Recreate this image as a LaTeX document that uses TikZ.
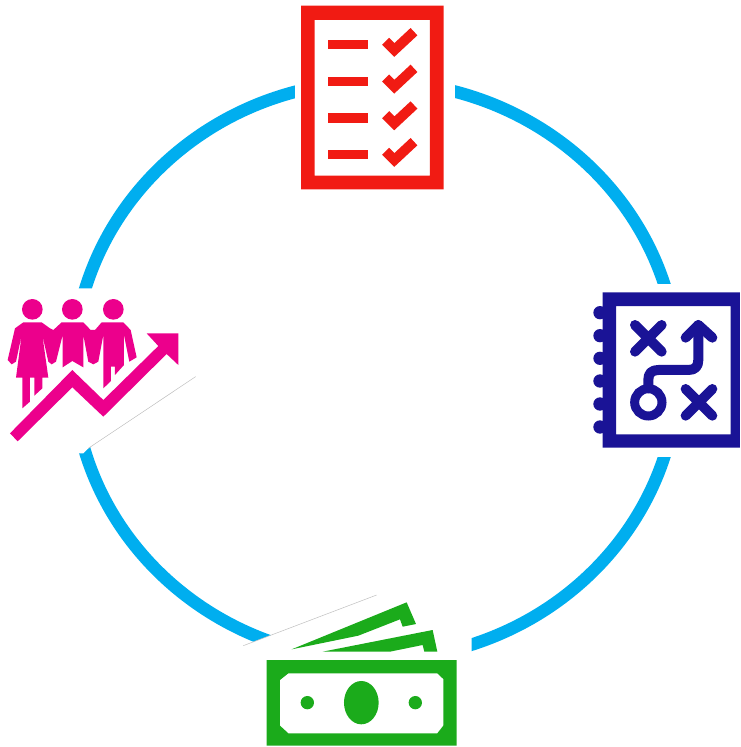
\documentclass[tikz,border=0pt]{standalone}
\definecolor{ringblue}{HTML}{00AEEF}
\definecolor{listred}{HTML}{F11B13}
\definecolor{plannavy}{HTML}{1A1396}
\definecolor{peoplepink}{HTML}{EC008C}
\definecolor{moneygreen}{HTML}{1BAB1B}
\tikzset{
  zoomed/.style={x=0.3333pt,y=-0.3333pt},
  maskfill/.style={fill=white,draw=none},
  cutline/.style={draw=black!25,line width=0.5pt},
  planstroke/.style={draw=plannavy,line width=10pt,line cap=round,line join=round},
  checkstroke/.style={draw=listred,line width=10pt,line join=miter,line cap=butt}
}
\begin{document}
\begin{tikzpicture}[x=1pt,y=-1pt]
\useasboundingbox (0,0) rectangle (740,747);
% ring
\draw[ringblue,line width=12.5pt] (375.5,370.5) ellipse [x radius=302.5,y radius=289];
% masks that interrupt the ring
\fill[maskfill] (295,60) rectangle (455,130);
\fill[maskfill] (620,284) rectangle (700,457);
\begin{scope}[zoomed,shift={(0pt,-280pt)}]
  \fill[maskfill] (170,25) -- (400,25) -- (587,290) -- (265,505) -- (250,520) -- (170,520) -- cycle;
  \draw[cutline] (265,505) -- (587,290);
\end{scope}
\begin{scope}[zoomed,shift={(230pt,-580pt)}]
  \fill[maskfill] (40,197) -- (440,45) -- (725,45) -- (725,280) -- (40,280) -- cycle;
  \draw[cutline] (40,197) -- (440,45);
\end{scope}
% checklist
\begin{scope}[zoomed,shift={(290pt,0pt)}]
  \fill[listred,even odd rule] (33,17) rectangle (461,568) (74,60) rectangle (420,527);
  \foreach \yy in {0,110,220,330}{
    \fill[listred] (115,120+\yy) rectangle (233,148+\yy);
    \draw[checkstroke] (287,124+\yy) -- (313,150+\yy) -- (372,95+\yy);
  }
\end{scope}
% plan
\begin{scope}[zoomed,shift={(580pt,-280pt)}]
  \foreach \yy in {98,167,235,303,372,441}{
    \fill[plannavy] (60,\yy) circle [radius=20];
  }
  \fill[plannavy,even odd rule] (68,37) rectangle (480,503) (108,78) rectangle (452,463);
  \draw[planstroke] (165,135) -- (245,215) (165,215) -- (245,135);
  \draw[planstroke] (317,327) -- (397,407) (317,407) -- (397,327);
  \draw[planstroke] (317,173) -- (355,135) -- (397,173);
  \draw[planstroke] (355,135) -- (355,240) .. controls (355,260) and (345,270) .. (325,270) -- (235,270) .. controls (215,270) and (205,280) .. (205,300) -- (205,325);
  \draw[plannavy,line width=9pt] (205,367) circle [radius=41];
\end{scope}
% money
\begin{scope}[zoomed,shift={(230pt,-580pt)}]
  \fill[moneygreen] (185,208) -- (530,67) -- (558,132) -- (518,140) -- (510,118) -- (385,167) -- cycle;
  \fill[moneygreen] (278,215) -- (608,150) -- (622,215) -- (583,215) -- (578,195) -- (480,215) -- cycle;
  \fill[moneygreen,even odd rule] (110,240) rectangle (680,497)
    (175,280) -- (622,280) -- (640,297) -- (640,437) -- (622,460) -- (175,460) -- (150,437) -- (150,300) -- cycle;
  \fill[moneygreen] (394,368) ellipse [x radius=52,y radius=65];
  \fill[moneygreen] (232,368) circle [radius=20];
  \fill[moneygreen] (556,368) circle [radius=20];
\end{scope}
% people and growth arrow
\begin{scope}[zoomed,shift={(0pt,-280pt)}]
  \fill[peoplepink] (97,88) circle [radius=31];
  \fill[peoplepink] (217,88) circle [radius=31];
  \fill[peoplepink] (340,88) circle [radius=31];
  \fill[peoplepink] (23,240) -- (45,145) -- (70,127) -- (125,127) -- (150,145) -- (160,150) -- (185,127) -- (250,127) -- (272,150) -- (285,150) -- (305,127) -- (370,127) -- (392,150) -- (410,232) -- (388,245) -- (372,165) -- (372,255) -- (345,285) -- (345,260) -- (333,260) -- (333,303) -- (310,325) -- (310,165) -- (295,245) -- (280,253) -- (265,245) -- (250,165) -- (250,262) -- (217,243) -- (188,262) -- (188,165) -- (168,245) -- (155,253) -- (145,245) -- (127,165) -- (145,293) -- (127,293) -- (127,325) -- (103,347) -- (103,293) -- (90,293) -- (90,365) -- (67,385) -- (67,293) -- (48,293) -- (65,165) -- (48,245) -- (35,253) -- cycle;
  \fill[peoplepink] (30,460) -- (217,270) -- (310,360) -- (475,198) -- (440,160) -- (535,160) -- (535,255) -- (500,222) -- (310,410) -- (217,322) -- (53,484) -- cycle;
\end{scope}
\end{tikzpicture}
\end{document}
